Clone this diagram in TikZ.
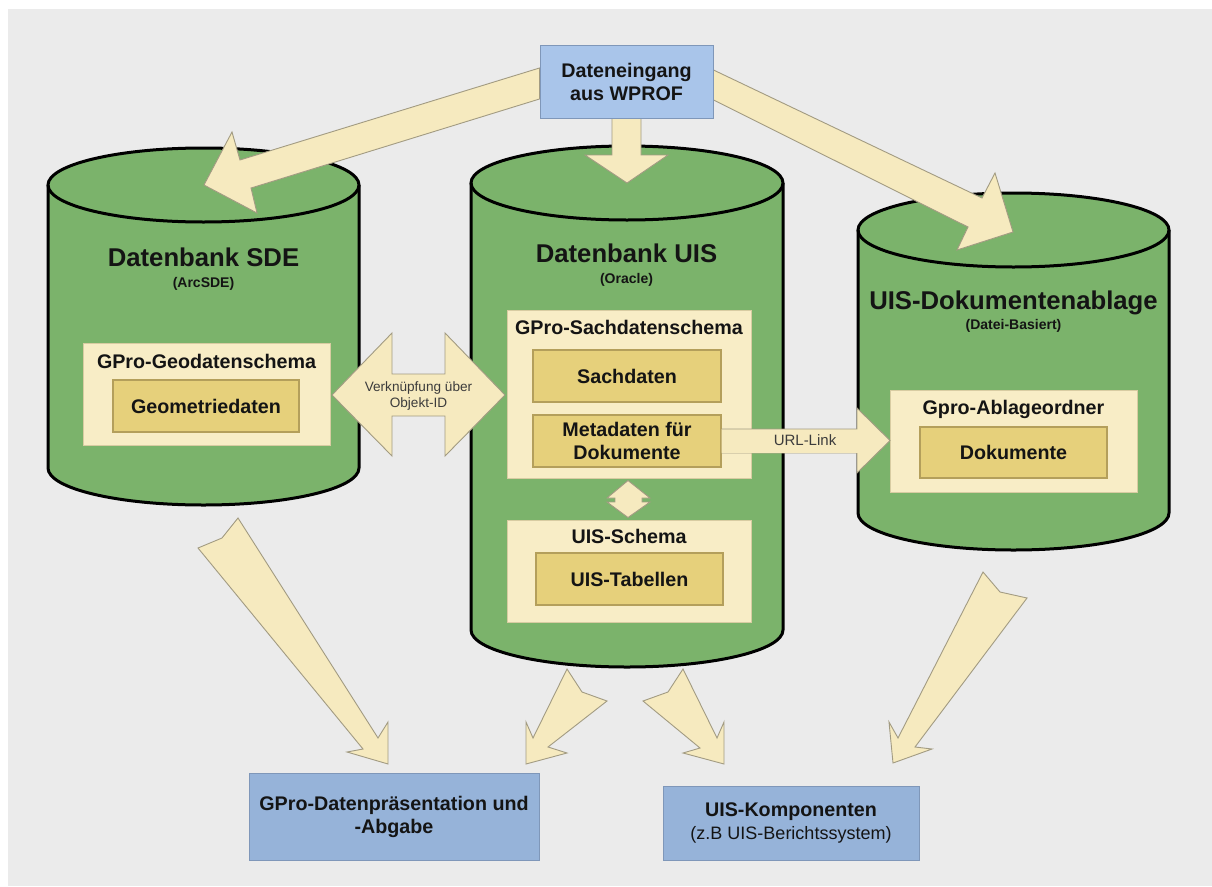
\documentclass[tikz,border=0pt]{standalone}
\usepackage{fontspec}
\setmainfont{Liberation Sans}
\usetikzlibrary{calc}

\definecolor{pagebg}{HTML}{EBEBEB}
\definecolor{cylgreen}{HTML}{7BB36B}
\definecolor{cream}{HTML}{F8EDC6}
\definecolor{creamline}{HTML}{D8CCA2}
\definecolor{arrowfill}{HTML}{F6EABF}
\definecolor{arrowline}{HTML}{A29B82}
\definecolor{gold}{HTML}{E6D07B}
\definecolor{goldline}{HTML}{B49F5B}
\definecolor{bluetop}{HTML}{A9C5EA}
\definecolor{bluebot}{HTML}{96B3D9}
\definecolor{blueline}{HTML}{7F97B9}
\definecolor{ink}{HTML}{141414}
\definecolor{softink}{HTML}{3C3C3C}

\newcommand{\fontmain}{\fontsize{19.7}{23}\selectfont\bfseries}
\newcommand{\fonttitle}{\fontsize{25.7}{30}\selectfont\bfseries}
\newcommand{\fontsub}{\fontsize{14}{16}\selectfont\bfseries}
\newcommand{\fontlink}{\fontsize{13.6}{16}\selectfont}

% database cylinder: name, centre x, top y, bottom y, x radius, y radius
\newcommand{\dbcylinder}[6]{%
  \fill[cylgreen] (#2-#5,#3) -- (#2-#5,#4)
    arc[start angle=180,end angle=360,x radius=#5pt,y radius=#6pt]
    -- (#2+#5,#3) -- cycle;
  \fill[cylgreen] (#2,#3) ellipse[x radius=#5pt,y radius=#6pt];
  \draw[cylline] (#2-#5,#3) -- (#2-#5,#4)
    arc[start angle=180,end angle=360,x radius=#5pt,y radius=#6pt]
    -- (#2+#5,#3);
  \draw[cylline] (#2,#3) ellipse[x radius=#5pt,y radius=#6pt];
  \coordinate (#1) at (#2,{(#3+#4)/2});
}

\tikzset{
  cylline/.style={draw=black, line width=3pt},
  blockarrow/.style={fill=arrowfill, draw=arrowline, line width=0.9pt, line join=miter},
  schemabox/.style={rectangle, draw=creamline, fill=cream, line width=1pt, inner sep=0pt},
  databox/.style={rectangle, draw=goldline, fill=gold, line width=1.2pt, inner sep=0pt,
    text=ink, font=\fontmain, align=center},
  topbox/.style={rectangle, draw=blueline, fill=bluetop, line width=1pt, inner sep=0pt,
    text=ink, font=\fontmain, align=center},
  outbox/.style={rectangle, draw=blueline, fill=bluebot, line width=1pt, inner sep=0pt,
    text=ink, font=\fontmain, align=center},
  dbtitle/.style={anchor=base, inner sep=0pt, text=ink, font=\fonttitle},
  dbsub/.style={anchor=base, inner sep=0pt, text=ink, font=\fontsub},
  schematitle/.style={anchor=base, inner sep=0pt, text=ink, font=\fontmain},
  linklabel/.style={inner sep=0pt, text=softink, font=\fontlink, align=center},
}

\begin{document}
\begin{tikzpicture}[x=1pt, y=-1pt]
\useasboundingbox (0,0) rectangle (1212,886);
\fill[white] (0,0) rectangle (1212,886);
\fill[pagebg] (8,9) rectangle (1212,886);

% the three stores
\dbcylinder{sde}{203.5}{185}{468}{155.5}{37}
\dbcylinder{uis}{627}{183}{630}{156}{37}
\dbcylinder{ablagecyl}{1013.5}{230}{513}{155.5}{37}

% input box
\node[topbox, minimum width=173pt, minimum height=73pt] (wprof) at (626.5,81.5)
  {Dateneingang\\aus WPROF};

% input arrows into the three stores
\draw[blockarrow] ($(wprof.west)+(0,-13.5)$) -- (240,160) -- (232,132) -- (204,185)
  -- (257,213) -- (251,188) -- ($(wprof.west)+(0,17.5)$) -- cycle;
\draw[blockarrow] ($(wprof.east)+(0,-11.5)$) -- (982,198) -- (995,173) -- (1013,232)
  -- (957,250) -- (968,227) -- ($(wprof.east)+(0,18.5)$) -- cycle;
\draw[blockarrow] ($(wprof.south)+(-14.5,0)$) -- (612,155) -- (585,155) -- (627,183)
  -- (668,155) -- (641,155) -- ($(wprof.south)+(14.5,0)$) -- cycle;
% box drawn again on top of the arrow tails
\node[topbox, minimum width=173pt, minimum height=73pt] at (wprof) {Dateneingang\\aus WPROF};

% titles of the stores
\node[dbtitle] (sdeT) at (203.5,266) {Datenbank SDE};
\node[dbsub] (sdeS) at (203.5,287) {(ArcSDE)};
\node[dbtitle] (uisT) at (626.5,262) {Datenbank UIS};
\node[dbsub] (uisS) at (626.5,283) {(Oracle)};
\node[dbtitle] (abT) at (1013.5,309) {UIS-Dokumentenablage};
\node[dbsub] (abS) at (1013.5,329) {(Datei-Basiert)};

% SDE content
\node[schemabox, minimum width=247pt, minimum height=102pt] (geoschema) at (206.5,394) {};
\node[schematitle] (geoT) at (206.5,368) {GPro-Geodatenschema};
\node[databox, minimum width=186pt, minimum height=52pt] (geo) at (206,406) {Geometriedaten};

% UIS content
\node[schemabox, minimum width=244pt, minimum height=168pt] (sachschema) at (629,394) {};
\node[schematitle] (sachT) at (629,334) {GPro-Sachdatenschema};
\node[databox, minimum width=188pt, minimum height=52pt] (sach) at (627,376) {Sachdaten};
\node[databox, minimum width=188pt, minimum height=52pt] (meta) at (627,441)
  {Metadaten für\\Dokumente};
\node[schemabox, minimum width=244pt, minimum height=102pt] (uisschema) at (629,571) {};
\node[schematitle] (uisschT) at (629,543) {UIS-Schema};
\node[databox, minimum width=187pt, minimum height=52pt] (tab) at (629.5,579) {UIS-Tabellen};

% document store content
\node[schemabox, minimum width=247pt, minimum height=102pt] (ablage) at (1013.5,441) {};
\node[schematitle] (ablT) at (1013.5,414) {Gpro-Ablageordner};
\node[databox, minimum width=187pt, minimum height=51pt] (doks) at (1013.5,452.5) {Dokumente};

% link between geodata and attribute data
\coordinate (lnkL) at (332,395);
\coordinate (lnkR) at (505,395);
\draw[blockarrow] (lnkL) -- (392,333) -- (392,374) -- (445,374) -- (445,333) -- (lnkR)
  -- (445,456) -- (445,416) -- (392,416) -- (392,456) -- cycle;
\node[linklabel] (lnk) at (418.5,395.5) {Verknüpfung über\\Objekt-ID};

% link between the two schemas of UIS
\draw[blockarrow] ($(sachschema.south)+(-1,2)$) -- (650,498) -- (642,498) -- (642,502)
  -- (650,502) -- ($(uisschema.north)+(-1,-2)$) -- (607,502) -- (615,502) -- (615,498)
  -- (607,498) -- cycle;

% URL link from the metadata to the documents
\draw[blockarrow] ($(meta.east)+(0,-12)$) -- (857,429) -- (857,408) -- (890,440.5)
  -- (857,473) -- (857,453) -- ($(meta.east)+(0,12)$);
\fill[arrowfill] ($(meta.east)+(0.8,-11.5)$) rectangle (857.5,452.5);
\node[linklabel, font=\fontsize{15}{17}\selectfont] (url) at (805,440.5) {URL-Link};

% outputs
\node[outbox, minimum width=290pt, minimum height=87pt] (present) at (394,816.5)
  {GPro-Datenpräsentation und\\-Abgabe};
\node[outbox, minimum width=256pt, minimum height=74pt] (komp) at (791,823)
  {UIS-Komponenten\\{\fontsize{18}{21}\selectfont\mdseries (z.B UIS-Berichtssystem)}};

% output arrows
\draw[blockarrow] (198,548) -- (222,538) -- (238,518) -- (378,738) -- (388,722)
  -- (388,764) -- (347,752) -- (363,749) -- cycle;
\draw[blockarrow] (567,669) -- (582,692) -- (607,701) -- (548,747) -- (567,753)
  -- (526,764) -- (526,722) -- (533,738) -- cycle;
\draw[blockarrow] (683,669) -- (668,692) -- (643,701) -- (700,748) -- (683,753)
  -- (724,764) -- (724,722) -- (717,738) -- cycle;
\draw[blockarrow] (983,572) -- (1000,592) -- (1027,598) -- (915,747) -- (932,749)
  -- (893,763) -- (889,722) -- (898,738) -- cycle;
\end{tikzpicture}
\end{document}
